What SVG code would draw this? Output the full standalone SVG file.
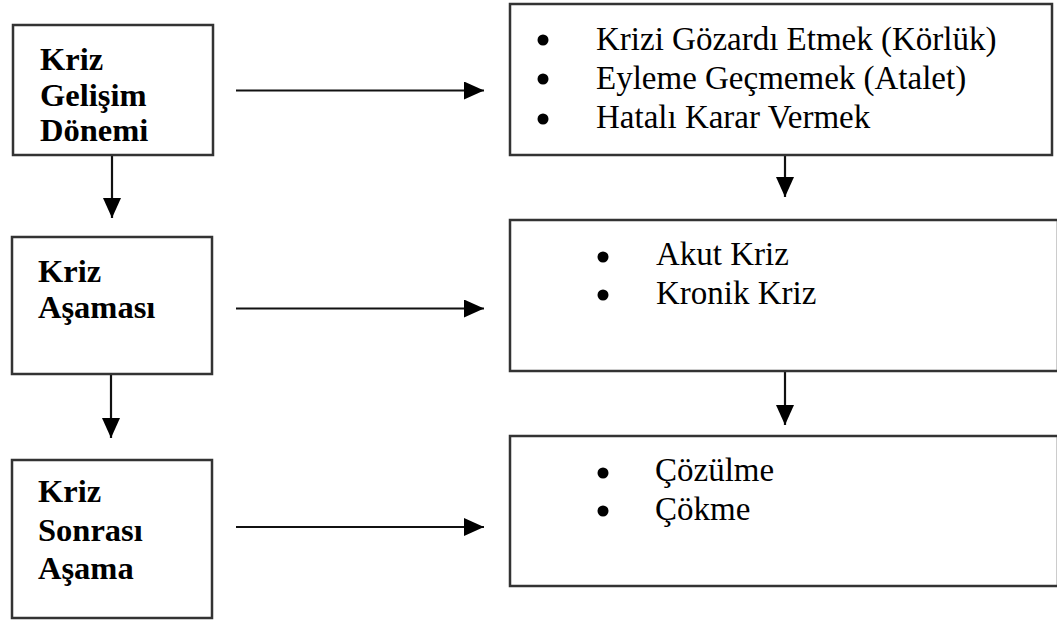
<svg xmlns="http://www.w3.org/2000/svg" width="1057" height="622" viewBox="0 0 1057 622">
<defs>
<style>
.box{fill:#fff;stroke:#333;stroke-width:2.5}
.lbl{font-family:"Liberation Serif","Times New Roman",serif;font-weight:bold;font-size:32.5px;fill:#000}
.item{font-family:"Liberation Serif","Times New Roman",serif;font-size:33px;fill:#000}
.bul{fill:#000}
.conn{stroke:#111;stroke-width:2.2;fill:none}
</style>
<marker id="ah" viewBox="0 0 20 18" refX="20" refY="9" markerWidth="20" markerHeight="18" markerUnits="userSpaceOnUse" orient="auto">
<path d="M0,0 L20,9 L0,18 Z" fill="#000"/>
</marker>
</defs>
<rect width="1057" height="622" fill="#fff"/>
<g id="connectors">
<line class="conn" x1="236" y1="90.5" x2="484" y2="90.5" marker-end="url(#ah)"/>
<line class="conn" x1="236" y1="308.5" x2="484" y2="308.5" marker-end="url(#ah)"/>
<line class="conn" x1="236" y1="527" x2="484" y2="527" marker-end="url(#ah)"/>
<line class="conn" x1="112" y1="155" x2="112" y2="218" marker-end="url(#ah)"/>
<line class="conn" x1="111" y1="374" x2="111" y2="438" marker-end="url(#ah)"/>
<line class="conn" x1="785" y1="154" x2="785" y2="197" marker-end="url(#ah)"/>
<line class="conn" x1="785" y1="371" x2="785" y2="425" marker-end="url(#ah)"/>
</g>
<g id="node-kriz-gelisim">
<rect class="box" x="13" y="25" width="200" height="130"/>
<text class="lbl" x="40" y="70">Kriz</text>
<text class="lbl" x="40" y="106">Gelişim</text>
<text class="lbl" x="40" y="141">Dönemi</text>
</g>
<g id="node-kriz-asamasi">
<rect class="box" x="12" y="237" width="200" height="137"/>
<text class="lbl" x="38" y="282">Kriz</text>
<text class="lbl" x="38" y="318">Aşaması</text>
</g>
<g id="node-kriz-sonrasi">
<rect class="box" x="12" y="460" width="200" height="158"/>
<text class="lbl" x="38" y="502">Kriz</text>
<text class="lbl" x="38" y="541">Sonrası</text>
<text class="lbl" x="38" y="579">Aşama</text>
</g>
<g id="node-gelisim-items">
<rect class="box" x="510" y="4" width="542" height="151"/>
<circle class="bul" cx="543" cy="40" r="5.5"/>
<circle class="bul" cx="543" cy="79" r="5.5"/>
<circle class="bul" cx="543" cy="119" r="5.5"/>
<text class="item" x="596" y="50">Krizi Gözardı Etmek (Körlük)</text>
<text class="item" x="596" y="89">Eyleme Geçmemek (Atalet)</text>
<text class="item" x="596" y="128">Hatalı Karar Vermek</text>
</g>
<g id="node-asama-items">
<rect class="box" x="510" y="220" width="548" height="151"/>
<circle class="bul" cx="603" cy="257" r="5.5"/>
<circle class="bul" cx="603" cy="295" r="5.5"/>
<text class="item" x="656" y="265">Akut Kriz</text>
<text class="item" x="656" y="304">Kronik Kriz</text>
</g>
<g id="node-sonrasi-items">
<rect class="box" x="510" y="436" width="548" height="150"/>
<circle class="bul" cx="603" cy="473" r="5.5"/>
<circle class="bul" cx="603" cy="511" r="5.5"/>
<text class="item" x="655" y="481">Çözülme</text>
<text class="item" x="655" y="520">Çökme</text>
</g>
</svg>
